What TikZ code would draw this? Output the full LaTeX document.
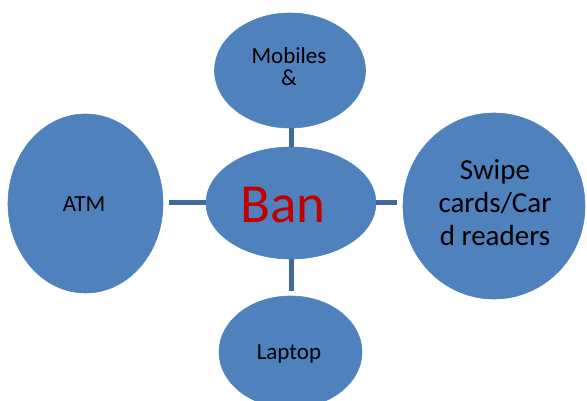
\documentclass[tikz,border=0pt]{standalone}
\usepackage{fontspec}
\setmainfont{Carlito}
\usetikzlibrary{shapes.geometric}
\definecolor{bubblefill}{HTML}{4F81BD}
\definecolor{linkblue}{HTML}{41699A}
\definecolor{titlered}{HTML}{C00000}
\tikzset{
  bubble/.style={ellipse, fill=bubblefill, draw=bubblefill, line width=0.6pt,
    inner sep=0pt, outer sep=0pt},
  link/.style={draw=linkblue, line width=5pt},
  small/.style={anchor=base, inner sep=0pt, font=\fontsize{23}{23}\selectfont},
  mid/.style={anchor=base, inner sep=0pt, font=\fontsize{29}{29}\selectfont},
  big/.style={anchor=base, inner sep=0pt, text=titlered, font=\fontsize{55}{55}\selectfont}
}
\begin{document}
\begin{tikzpicture}[x=1pt, y=-1pt]
  \clip (0,0) rectangle (587,401);
  % bubbles
  \node[bubble, minimum width=151pt, minimum height=115pt] (mob) at (290,70.5) {};
  \node[bubble, minimum width=170pt, minimum height=112pt] (ban) at (291,203) {};
  \node[bubble, minimum width=155pt, minimum height=179pt] (atm) at (85.5,203.5) {};
  \node[bubble, minimum width=182pt, minimum height=186pt] (swipe) at (494,206) {};
  \node[bubble, minimum width=143pt, minimum height=112pt] (lap) at (290.5,352) {};
  % straight spokes from the hub
  \draw[link] (ban.north) -- (ban.north |- mob.south);
  \draw[link, shorten >=6pt] (ban.west) -- (ban.west -| atm.east);
  \draw[link, shorten >=6pt] (ban.east) -- (ban.east -| swipe.west);
  \draw[link, shorten >=5pt] (ban.south) -- (ban.south |- lap.north);
  % labels
  \node[small] (mobA) at (289,64) {Mobiles};
  \node[small] (mobB) at (289,86) {\&};
  \node[big] (banT) at (283,223) {Ban};
  \node[small] (atmT) at (84,212) {ATM};
  \node[small] (lapT) at (289,359) {Laptop};
  \node[mid] (swA) at (495,180) {Swipe};
  \node[mid] (swB) at (495,212.5) {cards/Car};
  \node[mid] (swC) at (495,245) {d readers};
\end{tikzpicture}
\end{document}
